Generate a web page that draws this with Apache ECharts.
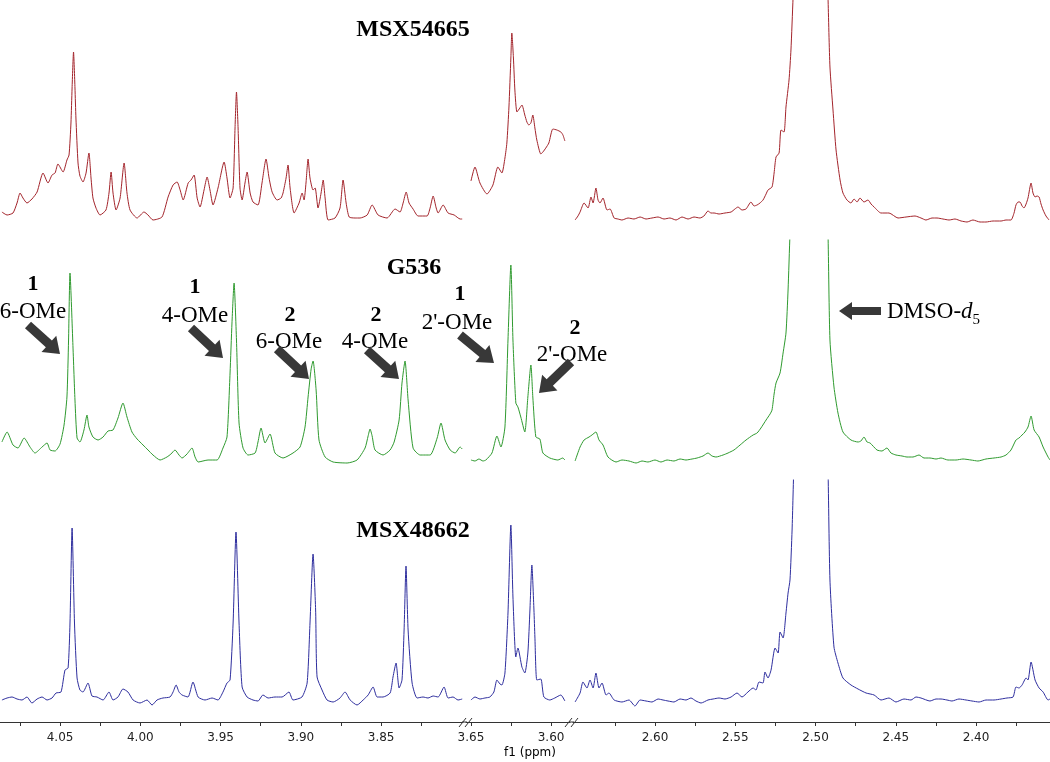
<!DOCTYPE html>
<html>
<head>
<meta charset="utf-8">
<script src="https://cdn.jsdelivr.net/npm/echarts@6/dist/echarts.min.js"></script>
<style>html,body{margin:0;padding:0;background:#fff}#c{width:1050px;height:762px}</style>
</head>
<body>
<div id="c"></div>
<script>
// ---------- DATA (ppm, intensity a.u.) ----------
const sampleNames = ['MSX54665', 'G536', 'MSX48662'];

const msx54665Left = [[4.0862,6],[4.0830,3],[4.0793,5],[4.0768,15],[4.0749,25],[4.0731,20],[4.0706,15],[4.0675,19],[4.0643,26],[4.0606,45],[4.0575,35],[4.0550,43],[4.0531,45],[4.0513,54],[4.0481,46],[4.0457,58],[4.0444,63],[4.0432,95],[4.0425,130],[4.0416,166],[4.0407,130],[4.0401,100],[4.0388,55],[4.0376,42],[4.0357,36],[4.0338,45],[4.0320,65],[4.0307,40],[4.0295,20],[4.0276,10],[4.0251,3],[4.0214,8],[4.0195,25],[4.0182,46],[4.0170,25],[4.0151,8],[4.0126,20],[4.0101,55],[4.0083,25],[4.0064,8],[4.0020,0],[3.9977,6],[3.9952,3],[3.9921,-2],[3.9865,1],[3.9827,21],[3.9796,33],[3.9771,36],[3.9752,28],[3.9733,18],[3.9702,35],[3.9684,38],[3.9665,43],[3.9646,20],[3.9628,11],[3.9603,28],[3.9584,41],[3.9566,28],[3.9547,13],[3.9516,30],[3.9478,56],[3.9460,40],[3.9441,20],[3.9422,30],[3.9410,90],[3.9401,126],[3.9391,90],[3.9379,30],[3.9366,18],[3.9348,35],[3.9335,46],[3.9316,25],[3.9298,16],[3.9267,13],[3.9242,35],[3.9217,59],[3.9198,40],[3.9179,26],[3.9148,18],[3.9123,20],[3.9111,25],[3.9092,40],[3.9080,53],[3.9067,30],[3.9042,5],[3.9011,15],[3.8992,25],[3.8980,18],[3.8968,35],[3.8955,59],[3.8943,40],[3.8924,28],[3.8911,30],[3.8893,10],[3.8874,25],[3.8861,38],[3.8849,20],[3.8830,-2],[3.8787,0],[3.8756,10],[3.8737,38],[3.8718,15],[3.8699,1],[3.8662,0],[3.8631,0],[3.8587,3],[3.8556,13],[3.8519,3],[3.8463,0],[3.8413,9],[3.8382,6],[3.8363,15],[3.8344,26],[3.8326,15],[3.8301,9],[3.8270,2],[3.8214,2],[3.8195,10],[3.8176,22],[3.8157,10],[3.8145,5],[3.8114,13],[3.8083,5],[3.8045,3],[3.8008,-1],[3.7995,-1]];
const msx54665Mid = [[3.6500,37],[3.6475,51],[3.6444,35],[3.6400,24],[3.6363,33],[3.6332,51],[3.6307,45],[3.6288,60],[3.6276,75],[3.6263,111],[3.6251,160],[3.6245,185],[3.6235,160],[3.6226,128],[3.6213,106],[3.6195,110],[3.6182,113],[3.6164,103],[3.6151,96],[3.6139,93],[3.6126,95],[3.6114,103],[3.6101,90],[3.6089,78],[3.6064,64],[3.6051,66],[3.6033,70],[3.6014,75],[3.5989,89],[3.5964,88],[3.5939,86],[3.5926,83],[3.5914,77]];
const msx54665Right = [[2.6498,-2],[2.6480,2],[2.6467,6],[2.6442,15],[2.6417,10],[2.6399,21],[2.6386,15],[2.6368,30],[2.6355,18],[2.6343,15],[2.6324,20],[2.6299,8],[2.6280,9],[2.6255,0],[2.6231,-1],[2.6206,-2],[2.6168,0],[2.6131,-1],[2.6093,1],[2.6056,-1],[2.6019,0],[2.5981,1],[2.5944,-1],[2.5907,0],[2.5869,-2],[2.5832,1],[2.5794,-1],[2.5757,1],[2.5720,0],[2.5695,2],[2.5670,7],[2.5651,5],[2.5632,5],[2.5601,4],[2.5564,5],[2.5526,6],[2.5502,9],[2.5483,11],[2.5458,8],[2.5433,9],[2.5402,16],[2.5383,12],[2.5364,13],[2.5346,15],[2.5327,18],[2.5308,24],[2.5296,28],[2.5271,31],[2.5258,45],[2.5246,61],[2.5227,65],[2.5215,88],[2.5196,86],[2.5184,111],[2.5165,138],[2.5153,168],[2.5140,220],[2.5122,300],[2.5097,500],[2.5065,1000],[2.5028,1500],[2.4991,1000],[2.4960,500],[2.4935,300],[2.4922,220],[2.4910,151],[2.4891,108],[2.4872,68],[2.4847,38],[2.4829,25],[2.4804,18],[2.4779,15],[2.4760,19],[2.4741,16],[2.4723,20],[2.4698,16],[2.4673,18],[2.4654,14],[2.4635,11],[2.4592,5],[2.4542,5],[2.4486,0],[2.4436,1],[2.4380,2],[2.4343,0],[2.4312,-2],[2.4274,0],[2.4243,0],[2.4206,-1],[2.4168,-2],[2.4131,-1],[2.4093,-3],[2.4056,-4],[2.4019,-2],[2.3975,-4],[2.3938,-4],[2.3894,-3],[2.3844,-3],[2.3813,-2],[2.3782,-2],[2.3763,5],[2.3751,13],[2.3738,16],[2.3726,16],[2.3713,12],[2.3701,10],[2.3688,14],[2.3676,20],[2.3657,35],[2.3645,25],[2.3632,21],[2.3620,22],[2.3607,21],[2.3595,14],[2.3582,8],[2.3564,2],[2.3545,-2]];

const g536Left = [[4.0862,22],[4.0830,32],[4.0793,19],[4.0762,16],[4.0724,26],[4.0687,17],[4.0656,11],[4.0612,17],[4.0581,21],[4.0562,14],[4.0531,13],[4.0500,20],[4.0475,39],[4.0457,67],[4.0447,124],[4.0438,191],[4.0421,124],[4.0407,64],[4.0394,26],[4.0376,22],[4.0351,34],[4.0332,49],[4.0320,37],[4.0295,27],[4.0263,24],[4.0232,27],[4.0201,33],[4.0170,34],[4.0139,46],[4.0108,61],[4.0083,47],[4.0052,32],[4.0020,25],[3.9983,19],[3.9952,14],[3.9921,9],[3.9877,4],[3.9834,7],[3.9809,10],[3.9784,14],[3.9759,9],[3.9740,6],[3.9709,10],[3.9678,16],[3.9659,7],[3.9640,2],[3.9578,4],[3.9522,4],[3.9485,16],[3.9460,27],[3.9441,91],[3.9429,141],[3.9416,181],[3.9401,124],[3.9385,41],[3.9360,16],[3.9329,9],[3.9285,11],[3.9267,22],[3.9248,36],[3.9223,21],[3.9192,30],[3.9161,11],[3.9111,6],[3.9049,11],[3.9005,17],[3.8974,37],[3.8955,67],[3.8936,95],[3.8924,103],[3.8905,74],[3.8887,24],[3.8849,7],[3.8799,2],[3.8712,1],[3.8650,4],[3.8600,16],[3.8581,28],[3.8569,35],[3.8556,28],[3.8538,14],[3.8488,9],[3.8444,14],[3.8419,22],[3.8388,44],[3.8370,81],[3.8351,103],[3.8332,64],[3.8301,16],[3.8257,9],[3.8195,9],[3.8151,26],[3.8127,41],[3.8102,24],[3.8070,14],[3.8039,11],[3.8008,17],[3.7995,15]];
const g536Mid = [[3.6500,4],[3.6475,3],[3.6450,5],[3.6425,3],[3.6407,4],[3.6369,11],[3.6338,28],[3.6313,17],[3.6288,37],[3.6269,124],[3.6251,199],[3.6238,124],[3.6220,61],[3.6207,57],[3.6189,47],[3.6164,32],[3.6145,67],[3.6126,99],[3.6114,67],[3.6095,27],[3.6070,25],[3.6051,11],[3.6008,6],[3.5958,4],[3.5927,6],[3.5914,4]];
const g536Right = [[2.6498,3],[2.6467,17],[2.6442,24],[2.6411,27],[2.6393,29],[2.6368,32],[2.6349,24],[2.6324,19],[2.6293,7],[2.6243,2],[2.6206,4],[2.6162,3],[2.6118,1],[2.6081,3],[2.6044,2],[2.6000,4],[2.5963,2],[2.5925,4],[2.5882,3],[2.5844,5],[2.5807,4],[2.5769,5],[2.5738,6],[2.5701,8],[2.5670,11],[2.5645,8],[2.5620,7],[2.5576,9],[2.5545,11],[2.5508,14],[2.5470,19],[2.5433,24],[2.5389,29],[2.5364,31],[2.5340,36],[2.5308,44],[2.5283,50],[2.5271,54],[2.5258,70],[2.5246,81],[2.5221,91],[2.5202,111],[2.5184,131],[2.5171,174],[2.5159,230],[2.5128,350],[2.5097,600],[2.5059,1200],[2.5028,1600],[2.4997,1200],[2.4966,600],[2.4941,350],[2.4922,230],[2.4910,124],[2.4885,77],[2.4860,51],[2.4829,32],[2.4779,24],[2.4735,22],[2.4717,23],[2.4698,27],[2.4679,22],[2.4660,21],[2.4617,14],[2.4586,13],[2.4555,16],[2.4530,11],[2.4499,9],[2.4461,8],[2.4430,7],[2.4393,7],[2.4355,9],[2.4324,6],[2.4287,6],[2.4249,5],[2.4218,6],[2.4175,4],[2.4125,4],[2.4081,5],[2.4031,4],[2.3988,3],[2.3938,5],[2.3888,6],[2.3844,7],[2.3813,9],[2.3782,14],[2.3751,24],[2.3732,26],[2.3713,29],[2.3695,32],[2.3676,37],[2.3657,48],[2.3638,34],[2.3607,27],[2.3582,17],[2.3551,7],[2.3539,4]];

const msx48662Left = [[4.0862,0],[4.0830,2],[4.0799,3],[4.0768,1],[4.0737,0],[4.0706,3],[4.0675,-3],[4.0643,1],[4.0612,3],[4.0581,0],[4.0550,2],[4.0525,7],[4.0494,8],[4.0469,30],[4.0450,32],[4.0438,77],[4.0425,172],[4.0410,77],[4.0394,22],[4.0376,10],[4.0357,8],[4.0326,17],[4.0301,4],[4.0270,3],[4.0232,0],[4.0195,8],[4.0170,0],[4.0139,3],[4.0108,11],[4.0077,8],[4.0045,0],[4.0002,-3],[3.9958,0],[3.9927,-5],[3.9896,0],[3.9859,2],[3.9815,3],[3.9796,8],[3.9777,15],[3.9759,8],[3.9740,5],[3.9703,3],[3.9672,18],[3.9640,3],[3.9597,0],[3.9553,2],[3.9516,0],[3.9485,8],[3.9460,17],[3.9441,20],[3.9422,77],[3.9404,168],[3.9385,77],[3.9366,13],[3.9335,3],[3.9298,0],[3.9267,-1],[3.9236,5],[3.9204,2],[3.9161,3],[3.9117,3],[3.9074,8],[3.9049,0],[3.8993,3],[3.8961,17],[3.8943,77],[3.8924,146],[3.8908,90],[3.8899,23],[3.8868,10],[3.8837,0],[3.8799,-2],[3.8756,2],[3.8725,8],[3.8693,0],[3.8650,-5],[3.8612,0],[3.8581,5],[3.8550,13],[3.8525,3],[3.8488,3],[3.8444,7],[3.8426,23],[3.8407,37],[3.8388,12],[3.8370,20],[3.8357,70],[3.8345,134],[3.8332,70],[3.8307,17],[3.8276,2],[3.8239,3],[3.8208,2],[3.8176,4],[3.8145,3],[3.8108,13],[3.8083,2],[3.8052,3],[3.8021,0],[3.7995,1]];
const msx48662Mid = [[3.6500,0],[3.6475,3],[3.6444,1],[3.6413,2],[3.6382,3],[3.6357,8],[3.6338,20],[3.6319,16],[3.6307,15],[3.6288,27],[3.6269,87],[3.6251,175],[3.6238,103],[3.6220,43],[3.6207,52],[3.6182,33],[3.6164,27],[3.6145,47],[3.6132,90],[3.6120,135],[3.6107,90],[3.6101,63],[3.6089,20],[3.6064,21],[3.6045,3],[3.6008,0],[3.5977,2],[3.5939,5],[3.5914,-1]];
const msx48662Right = [[2.6498,-2],[2.6467,7],[2.6449,18],[2.6424,12],[2.6405,20],[2.6386,12],[2.6368,27],[2.6349,12],[2.6330,17],[2.6305,5],[2.6287,7],[2.6255,0],[2.6206,-2],[2.6162,0],[2.6125,-6],[2.6093,0],[2.6056,-1],[2.6019,-2],[2.5981,1],[2.5950,0],[2.5919,-1],[2.5882,-2],[2.5844,1],[2.5807,0],[2.5776,2],[2.5745,-1],[2.5713,-3],[2.5670,0],[2.5638,1],[2.5601,2],[2.5564,1],[2.5526,3],[2.5489,7],[2.5458,3],[2.5421,8],[2.5389,12],[2.5371,10],[2.5352,18],[2.5327,17],[2.5315,28],[2.5296,22],[2.5277,30],[2.5252,52],[2.5233,47],[2.5221,68],[2.5202,62],[2.5184,87],[2.5171,107],[2.5159,120],[2.5146,170],[2.5134,240],[2.5103,400],[2.5065,1000],[2.5028,1500],[2.4991,1000],[2.4960,500],[2.4935,300],[2.4922,230],[2.4910,120],[2.4885,53],[2.4860,37],[2.4829,22],[2.4779,15],[2.4735,11],[2.4685,7],[2.4635,5],[2.4592,0],[2.4542,2],[2.4499,-2],[2.4449,1],[2.4405,0],[2.4374,3],[2.4343,2],[2.4287,-1],[2.4249,1],[2.4218,1],[2.4181,0],[2.4150,-1],[2.4106,1],[2.4062,0],[2.4025,-1],[2.3981,-2],[2.3938,0],[2.3888,0],[2.3844,1],[2.3807,2],[2.3769,3],[2.3751,13],[2.3732,12],[2.3713,15],[2.3688,22],[2.3676,20],[2.3657,38],[2.3632,20],[2.3607,12],[2.3582,8],[2.3551,0],[2.3539,1]];

// axis ticks / labels (ppm)
const ticksLeft = [4.075, 4.05, 4.025, 4.00, 3.975, 3.95, 3.925, 3.90, 3.875, 3.85, 3.825];
const labelsLeft = [4.05, 4.00, 3.95, 3.90, 3.85];
const ticksMid = [3.65, 3.625, 3.60];
const labelsMid = [3.65, 3.60];
const ticksRight = [2.625, 2.60, 2.575, 2.55, 2.525, 2.50, 2.475, 2.45, 2.425, 2.40, 2.375];
const labelsRight = [2.60, 2.55, 2.50, 2.45, 2.40];

// ---------- LAYOUT ----------
const colors = ['#a3242b', '#2f9a2f', '#2e2e9e'];
const cols = [
  {left: 0, width: 463, min: 3.799, max: 4.0874, ticks: ticksLeft, labels: labelsLeft},
  {left: 466, width: 104, min: 3.5882, max: 3.6531, ticks: ticksMid, labels: labelsMid},
  {left: 573, width: 477, min: 2.3539, max: 2.6511, ticks: ticksRight, labels: labelsRight}
];
const rows = [
  {top: 0, height: 226, min: -8, max: 218},
  {top: 240, height: 232, min: -8, max: 224},
  {top: 480, height: 242, min: -22, max: 220}
];
const seriesData = [
  [msx54665Left, msx54665Mid, msx54665Right],
  [g536Left, g536Mid, g536Right],
  [msx48662Left, msx48662Mid, msx48662Right]
];

const grid = [], xAxis = [], yAxis = [], series = [];
rows.forEach((r, ri) => {
  cols.forEach((c, ci) => {
    const idx = ri * 3 + ci;
    const bottomRow = ri === 2;
    grid.push({left: c.left, width: c.width, top: r.top, height: r.height, containLabel: false});
    xAxis.push({
      type: 'value', gridIndex: idx, inverse: true, min: c.min, max: c.max,
      show: bottomRow,
      axisLine: {show: true, onZero: false, lineStyle: {color: '#333', width: 1}},
      axisTick: {show: true, inside: false, length: 4, customValues: c.ticks, lineStyle: {color: '#333'}},
      axisLabel: {show: true, customValues: c.labels, margin: 10, color: '#222',
        fontFamily: 'DejaVu Sans', fontSize: 12, formatter: v => Number(v).toFixed(2)},
      splitLine: {show: false}
    });
    yAxis.push({type: 'value', gridIndex: idx, min: r.min, max: r.max, show: false, splitLine: {show: false}});
    series.push({
      type: 'line', name: sampleNames[ri], xAxisIndex: idx, yAxisIndex: idx,
      data: seriesData[ri][ci], showSymbol: false, symbol: 'none', clip: true,
      smooth: 0.2,
      lineStyle: {color: colors[ri], width: 1}, itemStyle: {color: colors[ri]},
      silent: true, animation: false
    });
  });
});

// ---------- ANNOTATIONS ----------
function arrow(tail, tip, shaftW, headW, headL) {
  const dx = tip[0] - tail[0], dy = tip[1] - tail[1], L = Math.hypot(dx, dy);
  const ux = dx / L, uy = dy / L, nx = -uy, ny = ux;
  const bx = tip[0] - ux * headL, by = tip[1] - uy * headL;
  return {type: 'polygon', silent: true, shape: {points: [
    [tail[0] + nx * shaftW / 2, tail[1] + ny * shaftW / 2],
    [bx + nx * shaftW / 2, by + ny * shaftW / 2],
    [bx + nx * headW / 2, by + ny * headW / 2],
    tip,
    [bx - nx * headW / 2, by - ny * headW / 2],
    [bx - nx * shaftW / 2, by - ny * shaftW / 2],
    [tail[0] - nx * shaftW / 2, tail[1] - ny * shaftW / 2]
  ]}, style: {fill: '#383838'}};
}
const diag = (a, b) => arrow(a, b, 9, 22, 15);
const serif = '"Liberation Serif", "Times New Roman", serif';
function txt(t, x, y, font, align) {
  return {type: 'text', silent: true, style: {text: t, x: x, y: y, font: font, fill: '#000',
    align: align || 'center', verticalAlign: 'middle'}};
}
const bold22 = 'bold 22px ' + serif, reg23 = '23px ' + serif, title = 'bold 24px ' + serif;

// measure "DMSO-d" for subscript placement
const cv = document.createElement('canvas').getContext('2d');
cv.font = reg23; const w1 = cv.measureText('DMSO-').width;
cv.font = 'italic ' + reg23; const w2 = cv.measureText('d').width;

const graphic = [
  txt(sampleNames[0], 413, 30, title),
  txt(sampleNames[1], 414, 268, title),
  txt(sampleNames[2], 413, 531, title),
  txt('1', 33, 284, bold22), txt('6-OMe', 33, 312, reg23), diag([28, 325], [60, 354]),
  txt('1', 195, 287, bold22), txt('4-OMe', 195, 316, reg23), diag([191, 328], [223, 358]),
  txt('2', 290, 315, bold22), txt('6-OMe', 289, 342, reg23), diag([277, 349], [309, 379]),
  txt('2', 376, 315, bold22), txt('4-OMe', 375, 342, reg23), diag([367, 350], [399, 379]),
  txt('1', 460, 294, bold22), txt("2'-OMe", 457, 323, reg23), diag([460, 335], [494, 363]),
  txt('2', 575, 328, bold22), txt("2'-OMe", 572, 355, reg23), diag([571, 362], [539, 393]),
  arrow([881, 311], [839, 311], 8, 18, 13),
  {type: 'text', silent: true, style: {text: '{a|DMSO-}{b|d}', x: 887, y: 312, align: 'left', verticalAlign: 'middle',
    rich: {a: {font: reg23, fill: '#000'}, b: {font: 'italic ' + reg23, fill: '#000'}}}},
  txt('5', 887 + w1 + w2, 320, '15px ' + serif, 'left'),
  txt('f1 (ppm)', 530, 753, '12px "DejaVu Sans"'),
  // axis break marks
  {type: 'line', silent: true, shape: {x1: 459, y1: 727, x2: 466, y2: 718}, style: {stroke: '#333', lineWidth: 1}},
  {type: 'line', silent: true, shape: {x1: 465, y1: 727, x2: 472, y2: 718}, style: {stroke: '#333', lineWidth: 1}},
  {type: 'line', silent: true, shape: {x1: 565, y1: 727, x2: 572, y2: 718}, style: {stroke: '#333', lineWidth: 1}},
  {type: 'line', silent: true, shape: {x1: 571, y1: 727, x2: 578, y2: 718}, style: {stroke: '#333', lineWidth: 1}},
  {type: 'line', silent: true, shape: {x1: 462, y1: 722, x2: 467, y2: 722}, style: {stroke: '#333', lineWidth: 1}},
  {type: 'line', silent: true, shape: {x1: 569, y1: 722, x2: 574, y2: 722}, style: {stroke: '#333', lineWidth: 1}}
];

const chart = echarts.init(document.getElementById('c'), null, {renderer: 'canvas'});
chart.setOption({animation: false, backgroundColor: '#fff', grid, xAxis, yAxis, series, graphic});
</script>
</body>
</html>
